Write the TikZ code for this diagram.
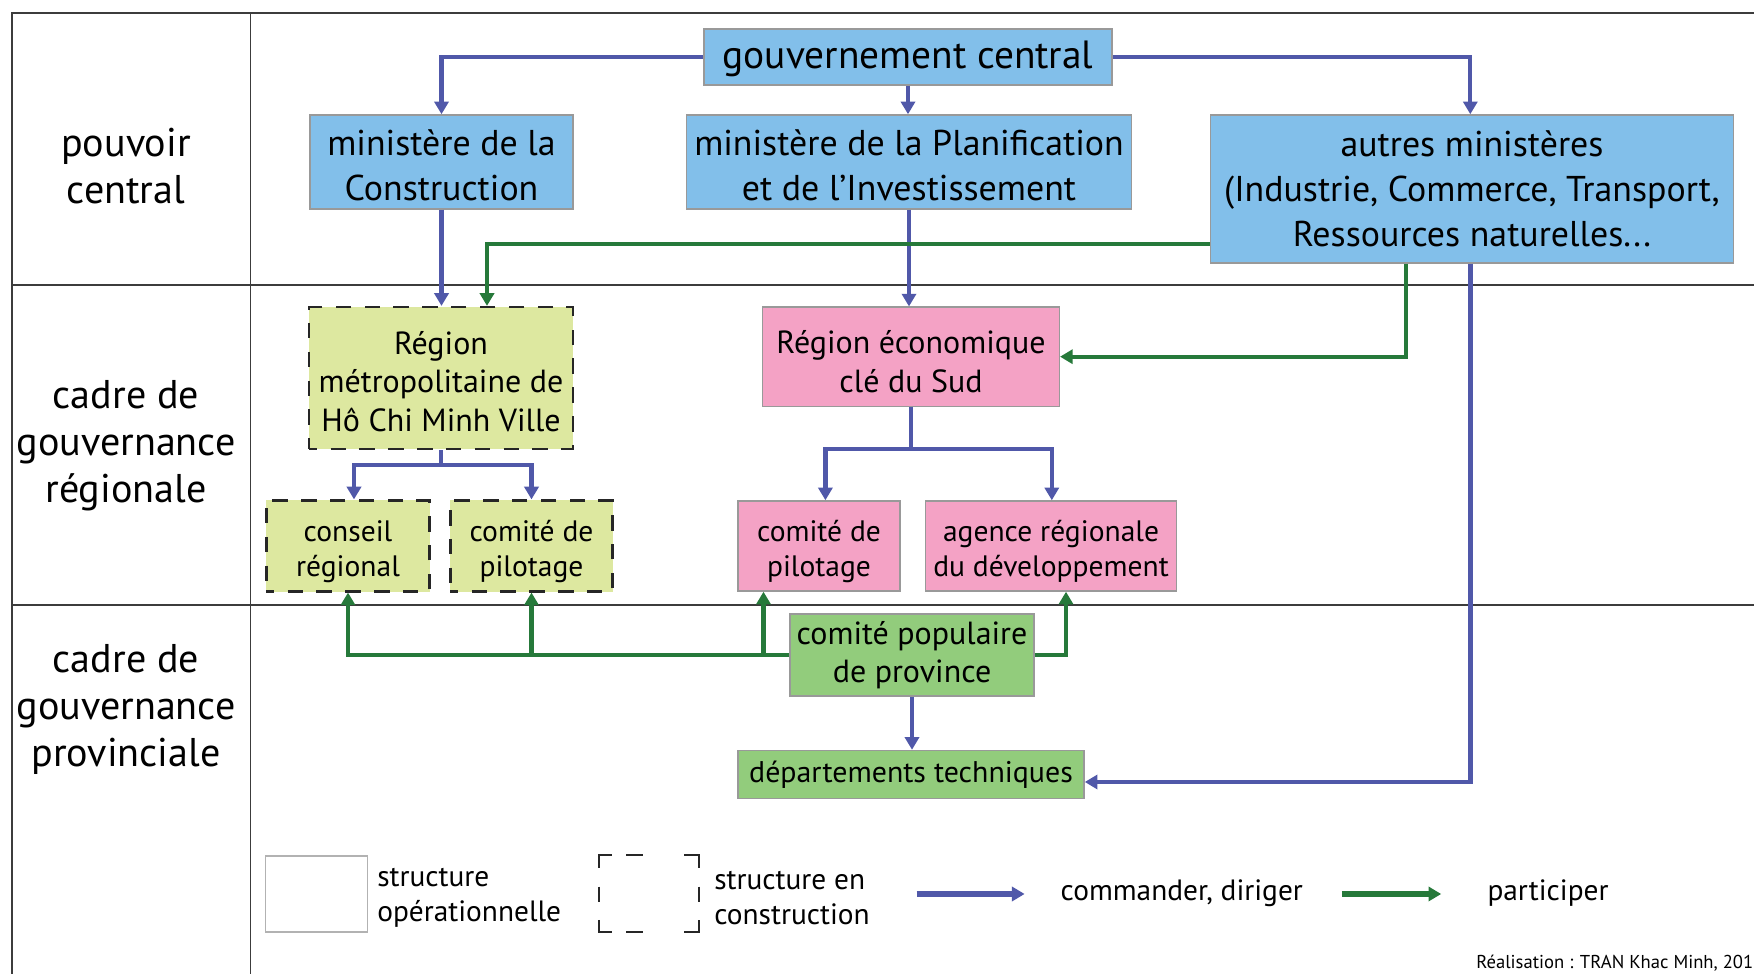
\documentclass[tikz,border=0pt]{standalone}
\usepackage{fontspec}
\setmainfont{PT Sans}
\usetikzlibrary{arrows.meta,calc}
\definecolor{cblue}{RGB}{80,88,169}
\definecolor{cgreen}{RGB}{38,121,58}
\definecolor{fblue}{RGB}{130,191,234}
\definecolor{fpink}{RGB}{244,162,197}
\definecolor{fyel}{RGB}{221,232,160}
\definecolor{fgreen}{RGB}{146,204,124}
\definecolor{cgrid}{RGB}{60,60,60}
\newcommand{\fgov}{\fontsize{11.2pt}{13pt}\selectfont}
\newcommand{\fmin}{\fontsize{10.2pt}{12.8pt}\selectfont}
\newcommand{\flab}{\fontsize{11.4pt}{13.4pt}\selectfont}
\newcommand{\freg}{\fontsize{9.1pt}{10.9pt}\selectfont}
\newcommand{\fsml}{\fontsize{8.4pt}{9.9pt}\selectfont}
\newcommand{\fdt}{\fontsize{8.5pt}{10pt}\selectfont}
\newcommand{\fleg}{\fontsize{8.35pt}{10.1pt}\selectfont}
\newcommand{\freal}{\fontsize{5.3pt}{6pt}\selectfont}
\tikzset{
  bx/.style={draw=gray!80, line width=0.4pt, inner sep=0pt, align=center},
  bbox/.style={bx, fill=fblue, font=\fmin},
  pbox/.style={bx, fill=fpink, font=\freg},
  gbox/.style={bx, fill=fgreen, font=\freg},
  ybox/.style={bx, fill=fyel, draw=black!85, line width=0.6pt, dash pattern=on 4.4pt off 3.8pt, dash phase=2.2pt, font=\freg},
  txt/.style={align=center, inner sep=0pt, draw=none, fill=none, solid},
  rowlab/.style={align=center, font=\flab, inner sep=0pt},
  barrow/.style={draw=cblue, line width=1.2pt, -{Triangle[length=3.6pt,width=4pt]}},
  garrow/.style={draw=cgreen, line width=1.2pt, -{Triangle[length=3.6pt,width=4pt]}},
  grid/.style={draw=cgrid, line width=0.45pt},
  legtxt/.style={font=\fleg, align=left, inner sep=0pt, anchor=west},
}
\begin{document}
\begin{tikzpicture}[x=0.01cm,y=-0.01cm]
\useasboundingbox (0,0) rectangle (1754,974);
% grid
\draw[grid] (1754,13) -- (12,13) -- (12,974);
\draw[grid] (250.6,13) -- (250.6,974);
\draw[grid] (12,285) -- (1754,285);
\draw[grid] (12,605) -- (1754,605);
% row labels
\node[rowlab] (l1) at (126,166) {pouvoir\\central};
\node[rowlab] (l2) at (126,445.5) {cadre de\\gouvernance\\régionale};
\node[rowlab] (l3) at (126,709.5) {cadre de\\gouvernance\\provinciale};
% boxes
\node[bbox, minimum width=4.08cm, minimum height=0.56cm,
  label={[txt, font=\fgov, yshift=-0.022cm]center:{gouvernement central}}] (gov) at (908,57) {};
\node[bbox, minimum width=2.63cm, minimum height=0.94cm,
  label={[txt, font=\fmin, yshift=-0.034cm]center:{ministère de la\\Construction}}] (mcon) at (441.5,162) {};
\node[bbox, minimum width=4.45cm, minimum height=0.94cm,
  label={[txt, font=\fmin, yshift=-0.034cm]center:{ministère de la Planification\\et de l’Investissement}}] (mplan) at (909,162) {};
\node[bbox, minimum width=5.23cm, minimum height=1.48cm] (autres) at (1472,189) {autres ministères\\(Industrie, Commerce, Transport,\\Ressources naturelles...};
\node[ybox, minimum width=2.63cm, minimum height=1.42cm,
  label={[txt, font=\freg, yshift=-0.035cm]center:{Région\\métropolitaine de\\Hô Chi Minh Ville}}] (rm) at (441,378) {};
\node[ybox, minimum width=1.63cm, minimum height=0.91cm,
  label={[txt, font=\fsml, yshift=-0.055cm]center:{conseil\\régional}}] (cr) at (348,546) {};
\node[ybox, minimum width=1.62cm, minimum height=0.91cm,
  label={[txt, font=\fsml, yshift=-0.055cm]center:{comité de\\pilotage}}] (cp1) at (531.5,546) {};
\node[pbox, minimum width=2.965cm, minimum height=0.99cm,
  label={[txt, font=\freg, yshift=-0.05cm]center:{Région économique\\clé du Sud}}] (re) at (911,356.7) {};
\node[pbox, minimum width=1.62cm, minimum height=0.90cm,
  label={[txt, font=\fsml, yshift=-0.055cm]center:{comité de\\pilotage}}] (cp2) at (819,546) {};
\node[pbox, minimum width=2.51cm, minimum height=0.90cm,
  label={[txt, font=\fsml, yshift=-0.055cm]center:{agence régionale\\du développement}}] (ag) at (1051,546) {};
\node[gbox, minimum width=2.44cm, minimum height=0.82cm] (cpp) at (912,655) {comité populaire\\de province};
\node[gbox, font=\fdt, minimum width=3.46cm, minimum height=0.48cm] (dt) at (911,774.5) {départements techniques};
% helper coordinates
\coordinate (xg) at (487,0);
\coordinate (yg) at (0,244);
\coordinate (xa) at (1405.6,0);
\coordinate (xb) at (1470.3,0);
\coordinate (j1) at (354,465);
\coordinate (j2) at (531.5,465);
\coordinate (j3) at (825.4,449);
\coordinate (j4) at (1051.8,449);
\coordinate (k2) at (763.5,655);
\coordinate (xag) at (1066,0);
% blue connectors
\draw[barrow] (gov.west) -| (mcon.north);
\draw[barrow] (gov.south) -- (gov.south |- mplan.north);
\draw[barrow] (gov.east) -| (autres.north -| xb);
\draw[barrow] (mcon.south) -- (mcon.south |- rm.north);
\draw[barrow] (mplan.south) -- (mplan.south |- re.north);
\draw[barrow, line width=1.4pt] (autres.south -| xb) |- ([yshift=-0.075cm]dt.east);
\draw[barrow] (rm.south) |- (j1) -- (j1 |- cr.north);
\draw[barrow] (rm.south) |- (j2) -- (j2 |- cp1.north);
\draw[barrow] (re.south) |- (j3) -- (j3 |- cp2.north);
\draw[barrow] (re.south) |- (j4) -- (j4 |- ag.north);
\draw[barrow, line width=0.9pt] (cpp.south) -- (cpp.south |- dt.north);
% green connectors
\draw[garrow] (autres.west |- yg) -| (rm.north -| xg);
\draw[garrow] (autres.south -| xa) |- (re.east);
\draw[garrow] (cpp.west) -| (cr.south);
\draw[garrow] (cp1.south |- cpp.west) -- (cp1.south);
\draw[garrow] (k2) -- (k2 |- cp2.south);
\draw[garrow] (cpp.east) -| (ag.south -| xag);
% legend
\node[draw=gray!60, line width=0.4pt, minimum width=1.016cm, minimum height=0.76cm, inner sep=0pt] (leg1) at (316.6,894) {};
\node[legtxt] (leg1t) at (376.6,898) {structure\\opérationnelle};
\node[minimum width=1.0cm, minimum height=0.77cm, inner sep=0pt] (leg2) at (648.6,893.6) {};
\draw[black!85, line width=0.6pt]
  (598.7,868) -- (598.7,855.2) -- (612,855.2)
  (626,855.2) -- (643,855.2)
  (684,855.2) -- (698.6,855.2) -- (698.6,868)
  (598.7,886.7) -- (598.7,901.7)
  (698.6,886.7) -- (698.6,901.7)
  (598.7,920) -- (598.7,932.2) -- (612,932.2)
  (626,932.2) -- (643,932.2)
  (684,932.2) -- (698.6,932.2) -- (698.6,920);
\node[legtxt] (leg2t) at (713.6,898) {structure en\\construction};
\coordinate (la1) at (916.5,894);
\coordinate (la2) at (1024.6,894);
\draw[barrow, line width=1.6pt] (la1) -- (la2);
\node[legtxt] (leg3t) at (1060,893.5) {commander, diriger};
\coordinate (lb1) at (1341.8,894);
\coordinate (lb2) at (1441.2,894);
\draw[garrow, line width=1.6pt] (lb1) -- (lb2);
\node[legtxt] (leg4t) at (1486.8,893.5) {participer};
\node[font=\freal, inner sep=0pt, anchor=base east] (real) at (1754,969) {Réalisation : TRAN Khac Minh, 201};
\end{tikzpicture}
\end{document}
